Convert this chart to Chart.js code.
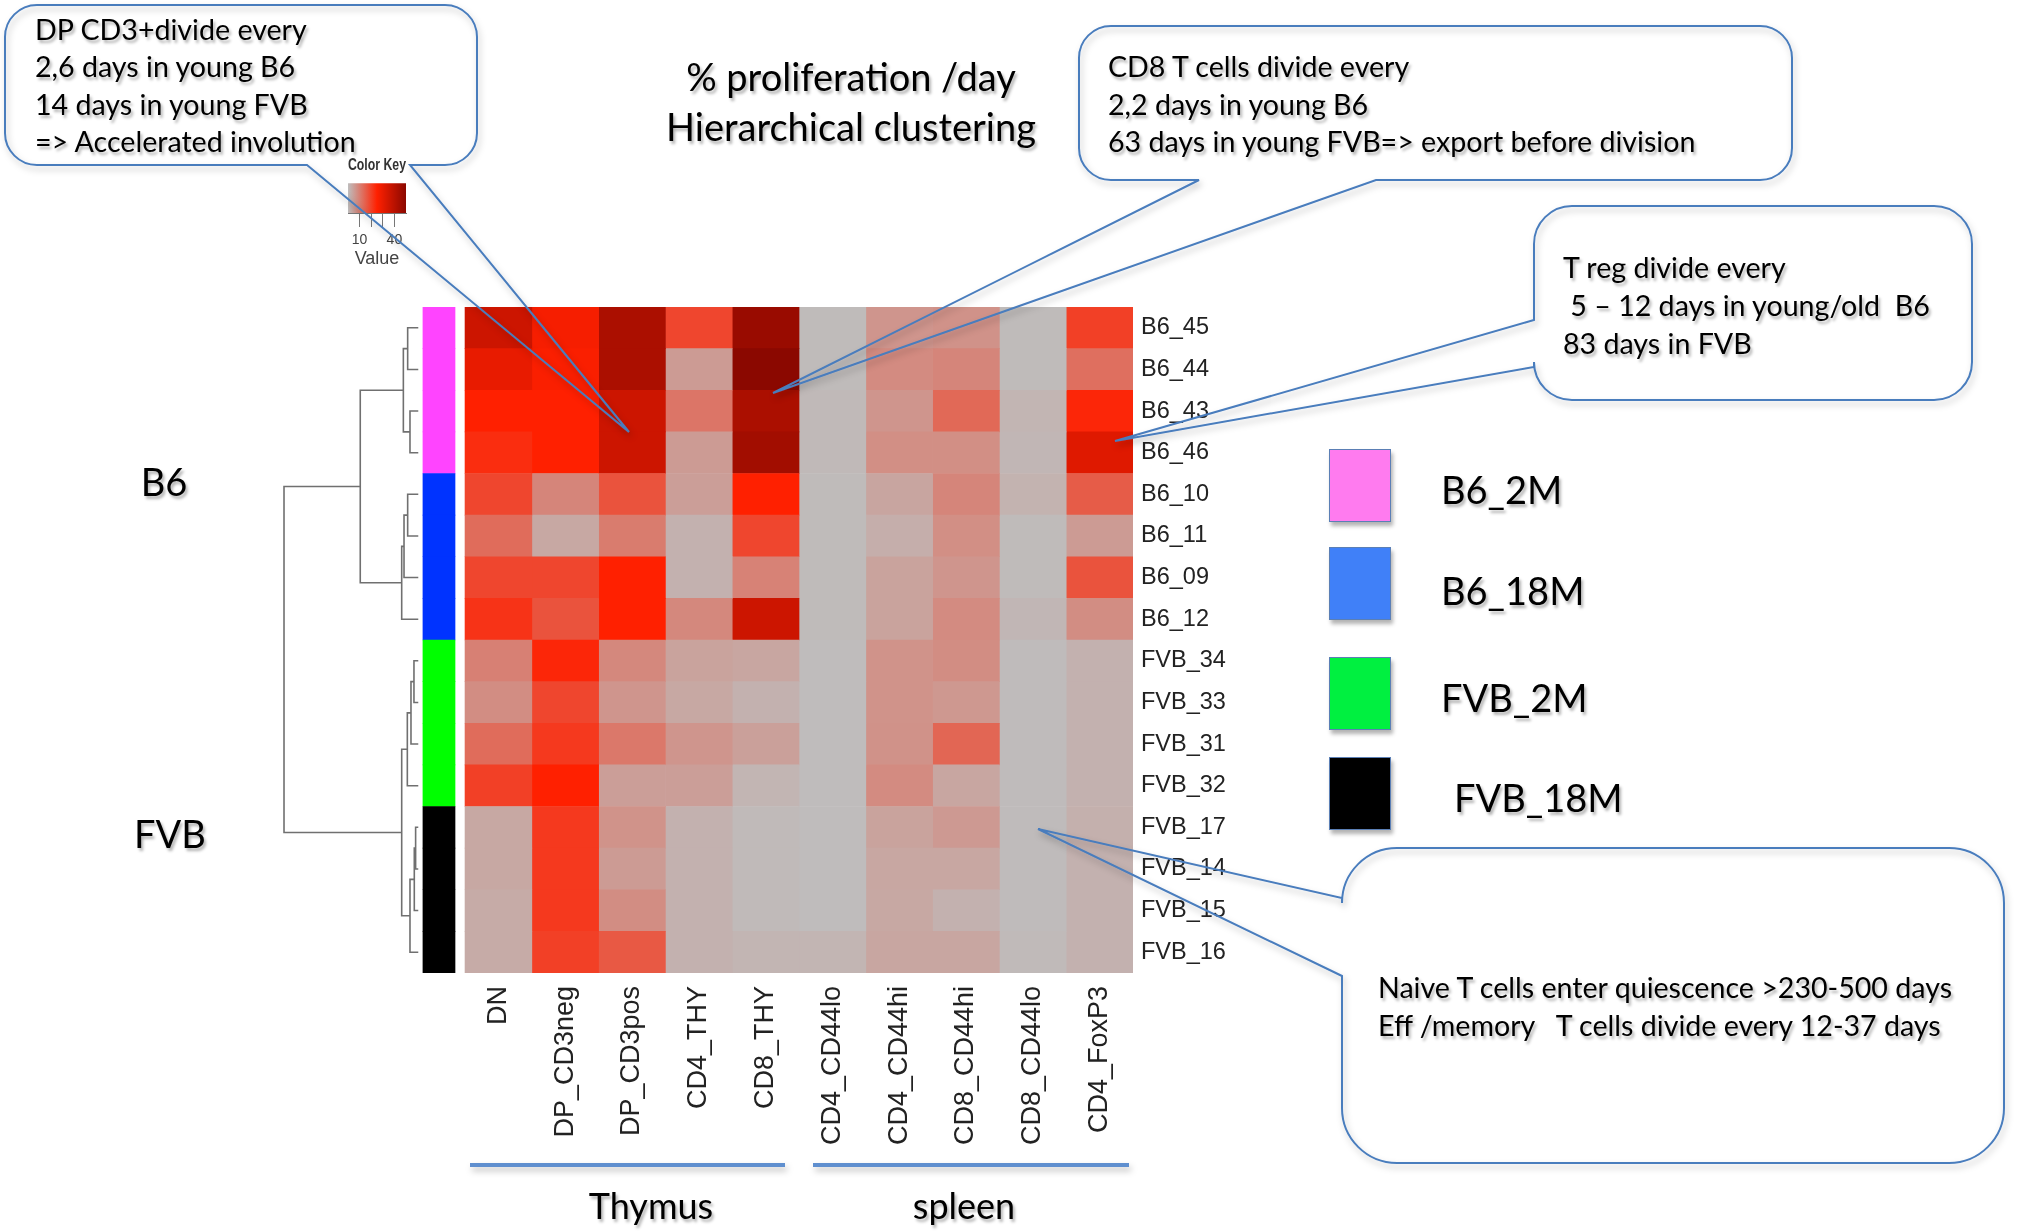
<!DOCTYPE html>
<html>
<head>
<meta charset="utf-8">
<script src="https://cdn.jsdelivr.net/npm/chart.js@4.4.1/dist/chart.umd.min.js"></script>
<style>
  html, body { margin: 0; padding: 0; background: #fff; }
  #page { position: relative; width: 2021px; height: 1232px; overflow: hidden; background: #fff;
          font-family: Lato, "Open Sans", sans-serif; color: #000; }
  #heat { position: absolute; left: 0; top: 0; }
  #key { position: absolute; left: 300px; top: 150px; }
  #deco { position: absolute; left: 0; top: 0; }
  .t { position: absolute; white-space: pre; text-shadow: 2px 3px 3px rgba(0,0,0,0.3); }
  .c { text-align: center; }
  .sq { position: absolute; box-sizing: border-box; border: 1px solid #5b7fb5;
        box-shadow: 2px 4px 4px rgba(0,0,0,0.3); }
</style>
</head>
<body>
<div id="page">
  <canvas id="heat" width="2021" height="1232"></canvas>
  <canvas id="key" width="150" height="125"></canvas>
  <svg id="deco" width="2021" height="1232"></svg>

  <div class="t c" style="left:551px;top:51px;width:600px;font-size:38px;line-height:50px;">% proliferation /day
Hierarchical clustering</div>

  <div class="t" style="left:35px;top:11px;font-size:28.6px;line-height:37.3px;">DP CD3+divide every
2,6 days in young B6
14 days in young FVB
=&gt; Accelerated involution</div>

  <div class="t" style="left:1108px;top:48px;font-size:28.6px;line-height:37.5px;">CD8 T cells divide every
2,2 days in young B6
63 days in young FVB=&gt; export before division</div>

  <div class="t" style="left:1563px;top:248px;font-size:28.6px;line-height:38px;">T reg divide every
 5 – 12 days in young/old  B6
83 days in FVB</div>

  <div class="t" style="left:1378px;top:968px;font-size:28.6px;line-height:38px;">Naive T cells enter quiescence &gt;230-500 days
Eff /memory   T cells divide every 12-37 days</div>

  <div class="t c" style="left:64px;top:458px;width:200px;font-size:38px;line-height:46px;">B6</div>
  <div class="t c" style="left:70px;top:810px;width:200px;font-size:38px;line-height:46px;">FVB</div>

  <div class="t c" style="left:501px;top:1182px;width:300px;font-size:36px;line-height:46px;">Thymus</div>
  <div class="t c" style="left:814px;top:1182px;width:300px;font-size:36px;line-height:46px;">spleen</div>

  <div id="legend"></div>
</div>

<script>
// rows (top to bottom) and columns of the heatmap
const rowLabels = ["B6_45", "B6_44", "B6_43", "B6_46", "B6_10", "B6_11", "B6_09", "B6_12",
                   "FVB_34", "FVB_33", "FVB_31", "FVB_32", "FVB_17", "FVB_14", "FVB_15", "FVB_16"];
const colLabels = ["DN", "DP_CD3neg", "DP_CD3pos", "CD4_THY", "CD8_THY",
                   "CD4_CD44lo", "CD4_CD44hi", "CD8_CD44hi", "CD8_CD44lo", "CD4_FoxP3"];

// % proliferation / day, one array per mouse, in column order
const B6_45  = [36, 27, 43, 19, 47, 0.5, 6.5, 7, 0.5, 20];
const B6_44  = [30, 26, 43, 5.5, 50, 0.5, 8, 9, 0.5, 12.5];
const B6_43  = [25, 25, 36, 11.5, 43, 0.8, 6.5, 13.5, 1.5, 24];
const B6_46  = [23, 25, 36, 5.5, 45, 0.8, 7.5, 7.5, 1.2, 32];
const B6_10  = [19, 9, 17, 5, 25, 0.5, 4, 9, 1.8, 15.5];
const B6_11  = [13, 3.5, 10.5, 2, 19, 0.5, 2.5, 7.5, 0.5, 5.5];
const B6_09  = [19, 19, 25, 2, 9.5, 0.5, 4.3, 6.5, 0.5, 17];
const B6_12  = [22, 17, 25, 8.5, 36, 0.5, 4.3, 8, 1.2, 7.8];
const FVB_34 = [9.8, 24, 8.5, 4.3, 3.8, 0.3, 6.8, 7.8, 0.4, 2];
const FVB_33 = [7.8, 19, 6.5, 3.5, 2, 0.3, 6.8, 6, 0.4, 2];
const FVB_31 = [13, 21, 11, 6.5, 4.8, 0.3, 7, 14, 0.4, 2];
const FVB_32 = [20, 25, 5, 5, 1.5, 0.3, 8, 3.8, 0.4, 2];
const FVB_17 = [3.5, 21, 6.8, 2, 0.6, 0.3, 4.3, 5.8, 0.4, 2.2];
const FVB_14 = [3.5, 21, 5.5, 2, 0.6, 0.3, 3.7, 3.7, 0.4, 2];
const FVB_15 = [3, 21, 7.8, 2, 0.6, 0.3, 3.5, 2, 0.4, 2];
const FVB_16 = [3, 20, 16, 2, 1.5, 1.5, 3.8, 3.8, 0.6, 2];
const rows = [B6_45, B6_44, B6_43, B6_46, B6_10, B6_11, B6_09, B6_12,
              FVB_34, FVB_33, FVB_31, FVB_32, FVB_17, FVB_14, FVB_15, FVB_16];

// sample groups (side colour bar + legend)
const groupNames = ["B6_2M", "B6_18M", "FVB_2M", "FVB_18M"];
const rowGroup = [0, 0, 0, 0, 1, 1, 1, 1, 2, 2, 2, 2, 3, 3, 3, 3];

// row dendrogram, hclust style: negative = row (1-based), positive = earlier merge
const dendroMerge = [[-1, -2], [-3, -4], [1, 2], [-5, -6], [4, -7], [5, -8], [3, 6],
                     [-9, -10], [8, -11], [9, -12], [-13, -14], [11, -15], [12, -16], [10, 13], [7, 14]];
const dendroHeight = [3.2, 2.5, 4.5, 3.2, 4.3, 5.0, 17.5, 1.3, 2.2, 3.3, 0.8, 1.2, 2.5, 5.0, 40.5];

// colour key
const keyTicks = [10, 20, 30, 40];
const keyLabelled = [10, 40];

// ---- styling / layout ----
const KEY_MIN = 0, KEY_MAX = 50;
const KEY_LOW = [190, 190, 190], KEY_MID = [255, 32, 0], KEY_HIGH = [139, 8, 0];
const sideColors = ["#ff44ff", "#0033ff", "#00ff00", "#000000"];
const legendColors = ["#ff7bef", "#4080f8", "#00f040", "#000000"];
const X_MIN = -2.8;
const SIDE_L = -0.63, SIDE_R = -0.15;
const DENDRO_TIP = -0.7, DENDRO_UNIT = 2.01 / 40.5;
const AXIS_FONT = "'Liberation Sans', Arial, sans-serif";

function mix(a, b, f) {
  return a.map((x, i) => Math.round(x + (b[i] - x) * f));
}

function valueColor(v) {
  const t = Math.max(0, Math.min(1, (v - KEY_MIN) / (KEY_MAX - KEY_MIN)));
  const c = t < 0.5 ? mix(KEY_LOW, KEY_MID, t / 0.5) : mix(KEY_MID, KEY_HIGH, (t - 0.5) / 0.5);
  return `rgb(${c.join(",")})`;
}

const datasets = colLabels.map((c, j) => ({
  label: c,
  data: rowLabels.map(() => [j, j + 1]),
  backgroundColor: rows.map((r) => valueColor(r[j])),
  borderWidth: 0,
  grouped: false,
  barPercentage: 1,
  categoryPercentage: 1,
}));
datasets.push({
  label: "group",
  data: rowLabels.map(() => [SIDE_L, SIDE_R]),
  backgroundColor: rowGroup.map((g) => sideColors[g]),
  borderWidth: 0,
  grouped: false,
  barPercentage: 1,
  categoryPercentage: 1,
});

const dendroPlugin = {
  id: "dendro",
  afterDatasetsDraw(chart) {
    const xs = chart.scales.x;
    const ys = chart.scales.y;
    const ctx = chart.ctx;
    const nodeX = [];
    const nodeY = [];
    const pos = (ref) =>
      ref < 0 ? [xs.getPixelForValue(DENDRO_TIP), ys.getPixelForValue(-ref - 1)] : [nodeX[ref - 1], nodeY[ref - 1]];
    ctx.save();
    ctx.strokeStyle = "#707070";
    ctx.lineWidth = 1.6;
    dendroMerge.forEach(([a, b], k) => {
      const x = xs.getPixelForValue(DENDRO_TIP - dendroHeight[k] * DENDRO_UNIT);
      const [xa, ya] = pos(a);
      const [xb, yb] = pos(b);
      ctx.beginPath();
      ctx.moveTo(xa, ya);
      ctx.lineTo(x, ya);
      ctx.lineTo(x, yb);
      ctx.lineTo(xb, yb);
      ctx.stroke();
      nodeX[k] = x;
      nodeY[k] = (ya + yb) / 2;
    });
    ctx.restore();
  },
};

new Chart(document.getElementById("heat"), {
  type: "bar",
  data: { labels: rowLabels, datasets },
  options: {
    responsive: false,
    animation: false,
    devicePixelRatio: 1,
    indexAxis: "y",
    layout: { padding: { left: 278, top: 307, right: 788, bottom: 59 } },
    plugins: { legend: { display: false }, tooltip: { enabled: false } },
    scales: {
      x: {
        type: "linear",
        min: X_MIN,
        max: colLabels.length,
        afterBuildTicks: (s) => { s.ticks = colLabels.map((c, i) => ({ value: i + 0.5 })); },
        afterFit: (s) => { s.height = 200; },
        grid: { display: false, drawTicks: false },
        border: { display: false },
        ticks: {
          autoSkip: false, minRotation: 90, maxRotation: 90, padding: 13,
          color: "#222", font: { family: AXIS_FONT, size: 27 },
          callback: (v, i) => colLabels[i],
        },
      },
      y: {
        position: "right",
        afterFit: (s) => { s.width = 100; },
        grid: { display: false, drawTicks: false },
        border: { display: false },
        ticks: { padding: 8, color: "#222", font: { family: AXIS_FONT, size: 23.5 } },
      },
    },
  },
  plugins: [dendroPlugin],
});

// colour key
new Chart(document.getElementById("key"), {
  type: "bar",
  data: { labels: [""], datasets: [{
    data: [[KEY_MIN, KEY_MAX]],
    borderWidth: 0, barPercentage: 1, categoryPercentage: 1,
    backgroundColor: (ctx) => {
      const ca = ctx.chart.chartArea;
      if (!ca) return "red";
      const g = ctx.chart.ctx.createLinearGradient(ca.left, 0, ca.right, 0);
      g.addColorStop(0, valueColor(KEY_MIN));
      g.addColorStop(0.5, valueColor((KEY_MIN + KEY_MAX) / 2));
      g.addColorStop(1, valueColor(KEY_MAX));
      return g;
    },
  }] },
  options: {
    responsive: false,
    animation: false,
    devicePixelRatio: 1,
    indexAxis: "y",
    layout: { padding: { left: 48, right: 44, top: 0, bottom: 0 } },
    plugins: {
      legend: { display: false },
      tooltip: { enabled: false },
      title: { display: true, text: "Color Key", color: "#333", padding: { top: 6, bottom: 8 },
               font: { family: AXIS_FONT, size: 16, weight: "bold" } },
    },
    scales: {
      x: {
        type: "linear", min: KEY_MIN, max: KEY_MAX,
        afterBuildTicks: (s) => { s.ticks = keyTicks.map((v) => ({ value: v })); },
        afterFit: (s) => { s.height = 62; },
        grid: { drawOnChartArea: false, drawTicks: true, tickLength: 14, color: "#777" },
        border: { display: true, color: "#777" },
        ticks: { autoSkip: false, minRotation: 0, maxRotation: 0, padding: 5,
                 color: "#444", font: { family: AXIS_FONT, size: 14 },
                 callback: (v) => (keyLabelled.includes(v) ? String(v) : "") },
        title: { display: true, text: "Value", color: "#444", padding: { top: 0, bottom: 5 },
                 font: { family: AXIS_FONT, size: 18 } },
      },
      y: { display: false },
    },
  },
});

// legend squares + labels
const legendTop = [449, 547, 657, 757];
const legendTextTop = [466, 567, 674, 774];
const legendEl = document.getElementById("legend");
groupNames.forEach((g, i) => {
  const sq = document.createElement("div");
  sq.className = "sq";
  sq.style.cssText = `left:1329px;top:${legendTop[i]}px;width:62px;height:73px;background:${legendColors[i]};`;
  legendEl.appendChild(sq);
  const t = document.createElement("div");
  t.className = "t";
  t.style.cssText = `left:${i === 3 ? 1454 : 1441}px;top:${legendTextTop[i]}px;font-size:38px;line-height:46px;`;
  t.textContent = g;
  legendEl.appendChild(t);
});

// callout bubbles and organ brackets
const NS = "http://www.w3.org/2000/svg";
const svg = document.getElementById("deco");
svg.innerHTML = `<defs><filter id="sh" filterUnits="userSpaceOnUse" x="0" y="0" width="2021" height="1232">
  <feDropShadow dx="2" dy="4" stdDeviation="3" flood-color="#000" flood-opacity="0.25"/></filter></defs>`;

function callout(x1, y1, x2, y2, r, side, a, b, px, py) {
  let d = `M${x1 + r},${y1} L${x2 - r},${y1} A${r},${r} 0 0 1 ${x2},${y1 + r} L${x2},${y2 - r} A${r},${r} 0 0 1 ${x2 - r},${y2}`;
  if (side === "bottom") d += ` L${b},${y2} L${px},${py} L${a},${y2}`;
  d += ` L${x1 + r},${y2} A${r},${r} 0 0 1 ${x1},${y2 - r}`;
  if (side === "left") d += ` L${x1},${b} L${px},${py} L${x1},${a}`;
  d += ` L${x1},${y1 + r} A${r},${r} 0 0 1 ${x1 + r},${y1} Z`;
  const p = document.createElementNS(NS, "path");
  p.setAttribute("d", d);
  p.setAttribute("fill", "none");
  p.setAttribute("stroke", "#4a7dbd");
  p.setAttribute("stroke-width", "2");
  p.setAttribute("filter", "url(#sh)");
  svg.appendChild(p);
}
callout(5, 5, 477, 165, 32, "bottom", 307, 410, 629, 432);
callout(1079, 26, 1792, 180, 32, "bottom", 1199, 1376, 773, 393);
callout(1534, 206, 1972, 400, 38, "left", 320, 367, 1115, 441);
callout(1342, 848, 2004, 1163, 55, "left", 898, 976, 1038, 829);

function bracket(x1, x2, y) {
  const l = document.createElementNS(NS, "line");
  l.setAttribute("x1", x1); l.setAttribute("x2", x2);
  l.setAttribute("y1", y); l.setAttribute("y2", y);
  l.setAttribute("stroke", "#5f8fcf");
  l.setAttribute("stroke-width", "4");
  l.setAttribute("filter", "url(#sh)");
  svg.appendChild(l);
}
bracket(470, 785, 1165);
bracket(813, 1129, 1165);
</script>
</body>
</html>
